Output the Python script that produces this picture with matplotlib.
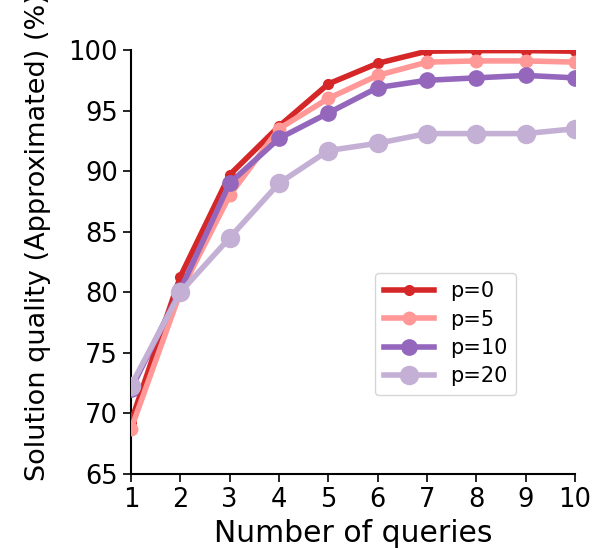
import matplotlib
matplotlib.use("Agg")
import matplotlib.pyplot as plt

queries = [1, 2, 3, 4, 5, 6, 7, 8, 9, 10]
p0 = [69.3, 81.3, 89.7, 93.7, 97.2, 98.9, 99.9, 99.95, 99.95, 99.9]
p5 = [68.7, 80.0, 88.0, 93.5, 96.0, 97.9, 99.0, 99.1, 99.1, 99.0]
p10 = [72.0, 80.2, 89.0, 92.7, 94.8, 96.9, 97.5, 97.7, 97.9, 97.7]
p20 = [72.3, 80.0, 84.5, 89.0, 91.7, 92.3, 93.1, 93.1, 93.1, 93.5]
labels = ["p=0", "p=5", "p=10", "p=20"]
colors = ["#d62728", "#ff9896", "#9467bd", "#c5b0d5"]
msizes = [7, 9, 11, 13]

fig = plt.figure(figsize=(5.97, 5.48), dpi=100)
ax = fig.add_axes([131/597, 1-474/548, (575-131)/597, (474-50)/548])
for ys, lab, c, ms in zip([p0, p5, p10, p20], labels, colors, msizes):
    ax.plot(queries, ys, '-o', color=c, lw=4, ms=ms, label=lab, zorder=3)

ax.set_xlim(1, 10)
ax.set_ylim(65, 100)
ax.set_xticks(queries)
ax.set_yticks([65, 70, 75, 80, 85, 90, 95, 100])
ax.tick_params(labelsize=18.5, length=6, width=1.2)
ax.spines['top'].set_visible(False)
ax.spines['right'].set_visible(False)
ax.spines['left'].set_linewidth(1.5)
ax.spines['bottom'].set_linewidth(1.5)
ax.set_xlabel("Number of queries", fontsize=21.5, labelpad=4)
ax.set_ylabel("Solution quality (Approximated) (%)", fontsize=19.5)
ax.yaxis.set_label_coords(-0.18, (474-237)/424)
ax.legend(loc='upper left', bbox_to_anchor=(0.55, 0.474), borderaxespad=0,
          fontsize=15, handlelength=2.4, handletextpad=0.8, labelspacing=0.4)
fig.savefig("out.png", dpi=100)
